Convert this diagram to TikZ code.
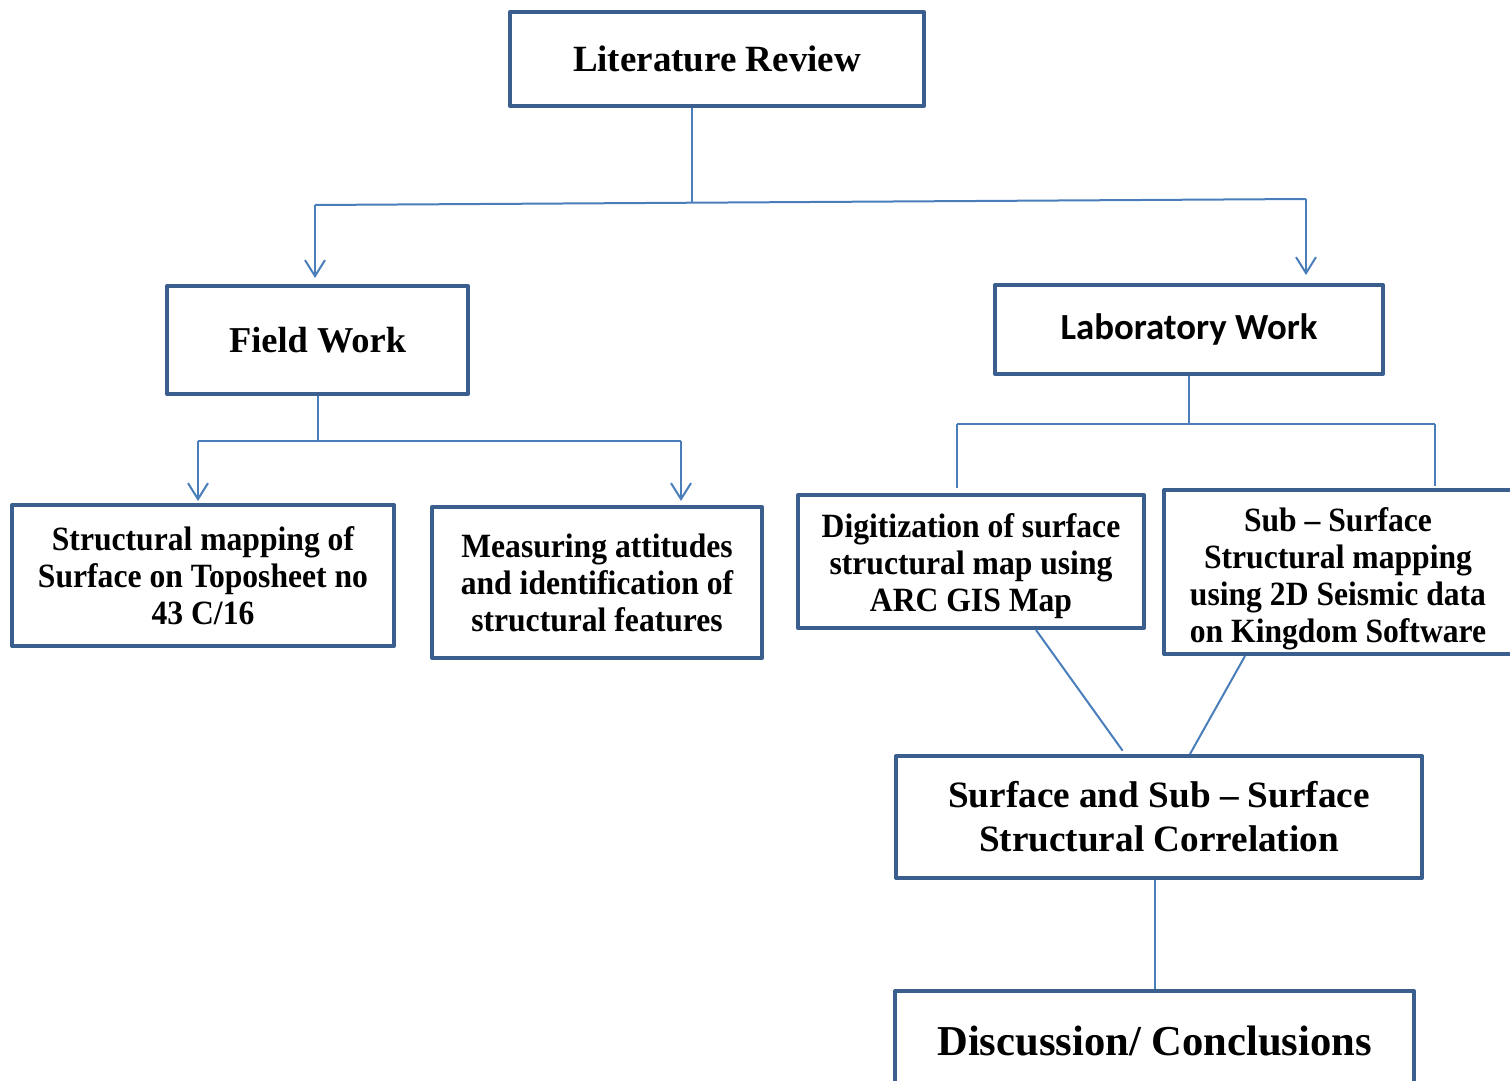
\documentclass[tikz,border=0pt]{standalone}
\usepackage{fontspec}
\setmainfont{Liberation Serif}
\newfontfamily\labfont{Carlito}
\newfontfamily\narrowfont[Ligatures=TeX,FakeStretch=0.93]{Liberation Serif}
\usetikzlibrary{positioning,arrows.meta}

\definecolor{boxblue}{HTML}{3A5F8E}
\definecolor{linkblue}{HTML}{4A7EBB}

\tikzset{
 flowbox/.style={rectangle,draw=boxblue,line width=2pt,line join=round,fill=white,align=center,inner sep=0pt},
 small/.style={font=\narrowfont\bfseries\fontsize{17}{18.5}\selectfont},
 link/.style={draw=linkblue,line width=1pt},
 >={Straight Barb[length=8pt,width=10pt]}
}

\begin{document}
\begin{tikzpicture}
 \useasboundingbox (0,0) rectangle (755pt,-540.5pt);

 \node[flowbox,minimum width=207pt,minimum height=47pt,font=\bfseries\fontsize{18.5}{22}\selectfont] (lit) at (358.5pt,-29.5pt) {Literature Review};
 \node[flowbox,minimum width=150.5pt,minimum height=54pt,font=\bfseries\fontsize{18.2}{22}\selectfont] (field) [below=88pt of lit,xshift=-199.75pt] {Field Work};
 \node[flowbox,minimum width=194pt,minimum height=44.5pt,font=\labfont\bfseries\fontsize{18.4}{22}\selectfont] (lab) [below=87.5pt of lit,xshift=236pt] {Laboratory Work};

 \node[flowbox,small,minimum width=191pt,minimum height=70.5pt] (struct) [below=53.5pt of field,xshift=-57.25pt] {Structural mapping of\\Surface on Toposheet no\\43 C/16};
 \node[flowbox,small,minimum width=165pt,minimum height=75.5pt] (measure) [below=54.5pt of field,xshift=139.75pt] {Measuring attitudes\\and identification of\\structural features};

 \node[flowbox,small,minimum width=173pt,minimum height=66.5pt] (digit) [below=58.5pt of lab,xshift=-109pt] {\rule{0pt}{17pt}Digitization of surface\\structural map using\\ARC GIS Map};
 \node[flowbox,small,minimum width=174pt,minimum height=82pt] (subsurf) [below=56pt of lab,xshift=74.5pt] {\rule{0pt}{19pt}Sub -- Surface\\Structural mapping\\using 2D Seismic data\\on Kingdom Software};

 \node[flowbox,minimum width=263pt,minimum height=61pt,font=\bfseries\fontsize{18.6}{22}\selectfont] (corr) [below=62pt of digit,xshift=94pt] {Surface and Sub -- Surface\\Structural Correlation};
 \node[flowbox,minimum width=259.5pt,minimum height=50pt,font=\bfseries\fontsize{21.3}{25}\selectfont] (concl) [below=54.5pt of corr,xshift=-2.25pt] {Discussion/ Conclusions};

 % fork points
 \coordinate (fieldin) at ([xshift=-1.25pt,yshift=39.5pt]field.north);
 \coordinate (labin) at ([xshift=58.5pt,yshift=42pt]lab.north);
 \coordinate (structin) at ([xshift=-2.5pt,yshift=31pt]struct.north);
 \coordinate (measurein) at ([xshift=42pt,yshift=32pt]measure.north);
 \coordinate (digitin) at ([xshift=-7pt,yshift=34.5pt]digit.north);
 \coordinate (subin) at ([xshift=48.5pt,yshift=32pt]subsurf.north);

 \path[link] ([xshift=-12.5pt]lit.south) edge ++(0,-47.5pt);
 \path[link] (fieldin) edge (labin);
 \path[link] (fieldin) edge [->,shorten >=3pt] (fieldin |- field.north);
 \path[link] (labin) edge [->,shorten >=4pt] (labin |- lab.north);

 \path[link] (field.south) edge (field.south |- structin);
 \path[link] (structin) edge (measurein);
 \path[link] (structin) edge [->,shorten >=1pt] (structin |- struct.north);
 \path[link] (measurein) edge [->,shorten >=2pt] (measurein |- measure.north);

 \path[link] (lab.south) edge (lab.south |- digitin);
 \path[link] (digitin) edge (subin);
 \path[link] (digitin) edge [shorten >=2.5pt] (digitin |- digit.north);
 \path[link] (subin) edge [shorten >=1pt] (subin |- subsurf.north);

 \path[link] ([xshift=32.5pt]digit.south) edge [shorten >=2pt] ([xshift=-17pt]corr.north);
 \path[link] ([xshift=-46.5pt]subsurf.south) edge ([xshift=15.5pt]corr.north);
 \path[link] ([xshift=-2pt]corr.south) edge ([xshift=-2pt]corr.south |- concl.north);
\end{tikzpicture}
\end{document}
